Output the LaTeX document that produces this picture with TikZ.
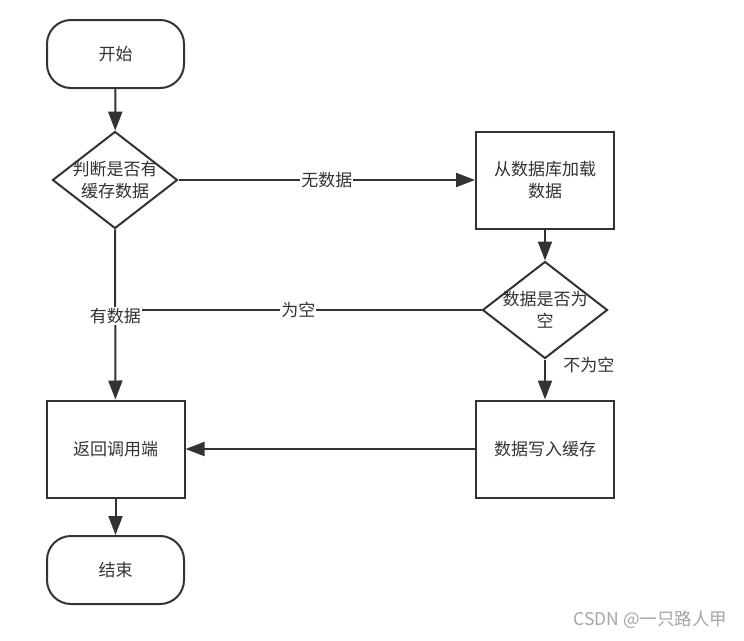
\documentclass[tikz,border=0pt]{standalone}
\usepackage{fontspec}
\setmainfont{Noto Sans CJK SC}
\usetikzlibrary{shapes.geometric,arrows.meta}
\definecolor{ln}{HTML}{333333}
\definecolor{tx}{HTML}{333333}
\begin{document}
\begin{tikzpicture}[x=1pt,y=-1pt,
  every node/.style={font=\fontsize{17}{22}\selectfont, text=tx},
  term/.style={draw=ln, line width=2pt, rounded corners=24pt, minimum width=137pt, minimum height=68pt},
  proc/.style={draw=ln, line width=2pt, minimum width=138pt, minimum height=97pt, align=center},
  dec/.style={draw=ln, line width=2pt, diamond, minimum width=125pt, minimum height=97pt, inner sep=0pt},
  conn/.style={draw=ln, line width=2pt, -{Triangle[length=19pt,width=14pt]}},
  segline/.style={draw=ln, line width=2pt},
  lbl/.style={fill=white, inner sep=1pt},
  wmark/.style={text=gray!70, font=\fontsize{17.5}{20}\selectfont}
]
\useasboundingbox[fill=white] (0,0) rectangle (744,640);
\node[term] (start) at (115.5,54) {开始};
\node[dec, label={[align=center]center:{判断是否有\\缓存数据}}] (d1) at (115,180) {};
\node[proc] (load) at (545,180) {从数据库加载\\数据};
\node[dec, label={[align=center]center:{数据是否为\\空}}] (d2) at (545,310) {};
\node[proc] (ret) at (115.5,449) {返回调用端};
\node[proc] (write) at (545,449) {数据写入缓存};
\node[term] (end) at (115.5,570) {结束};
\coordinate (j) at (d1.south |- d2.west);

\draw[conn] (start) -- (d1);
\draw[conn] (d1) -- node[lbl]{无数据} (load);
\draw[conn] (load) -- (d2);
\draw[segline] (d2.west) -- node[lbl]{为空} (j);
\draw[conn] (d1) -- node[lbl, pos=0.51]{有数据} (ret);
\draw[conn] (d2) -- node[pos=0.14, anchor=west, xshift=14pt]{不为空} (write);
\draw[conn] (write) -- (ret);
\draw[conn] (ret) -- (end);
\node[wmark, anchor=east] (wm) at (731,620) {CSDN @一只路人甲};
\end{tikzpicture}
\end{document}
